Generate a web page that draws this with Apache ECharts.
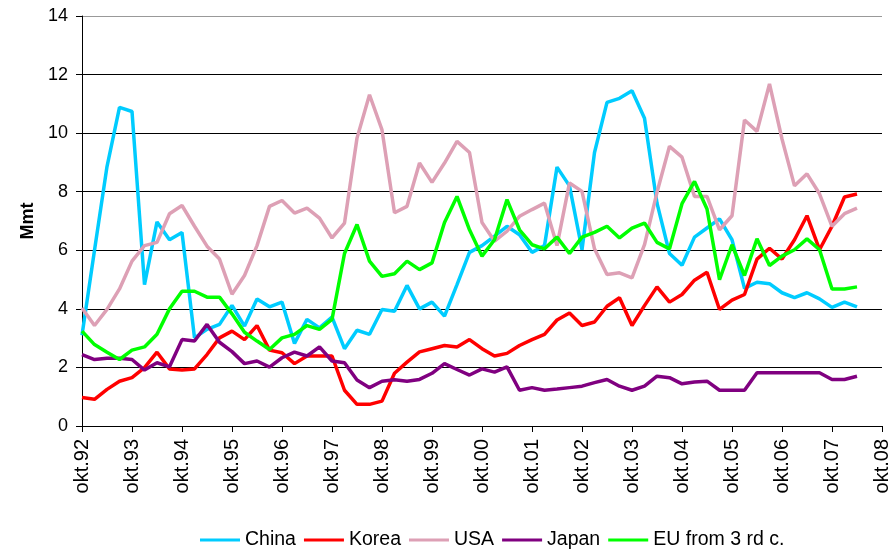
<!DOCTYPE html>
<html>
<head>
<meta charset="utf-8">
<script src="https://cdn.jsdelivr.net/npm/echarts@6/dist/echarts.min.js"></script>
<style>
  html, body { margin: 0; padding: 0; background: #fff; }
  #chart { width: 893px; height: 552px; }
</style>
</head>
<body>
<div id="chart"></div>
<script>
// quarterly, okt.92 .. okt.08 (only okt labels shown)
var years = ['92','93','94','95','96','97','98','99','00','01','02','03','04','05','06','07','08'];
var quarterNames = ['okt', 'jan', 'apr', 'jul'];

var china = [3.1, 6.0, 8.86, 10.88, 10.74, 4.83, 6.97, 6.36, 6.61, 3.01, 3.3, 3.47, 4.12, 3.41, 4.34, 4.07,
  4.23, 2.82, 3.64, 3.35, 3.72, 2.64, 3.27, 3.13, 3.98, 3.92, 4.8, 4.0, 4.23, 3.75, 4.83, 5.93,
  6.16, 6.48, 6.82, 6.53, 5.93, 6.16, 8.84, 8.2, 6.02, 9.34, 11.05, 11.19, 11.45, 10.51, 7.61, 5.89,
  5.49, 6.45, 6.76, 7.07, 6.36, 4.7, 4.91, 4.86, 4.55, 4.38, 4.55, 4.34, 4.05, 4.23, 4.07];
var korea = [0.97, 0.91, 1.25, 1.53, 1.65, 1.99, 2.52, 1.95, 1.91, 1.95, 2.44, 3.01, 3.24, 2.95, 3.43, 2.59,
  2.5, 2.13, 2.39, 2.39, 2.39, 1.22, 0.74, 0.74, 0.85, 1.8, 2.18, 2.53, 2.64, 2.75, 2.7, 2.95,
  2.64, 2.39, 2.48, 2.75, 2.95, 3.13, 3.62, 3.86, 3.43, 3.55, 4.09, 4.38, 3.43, 4.11, 4.75, 4.23,
  4.49, 4.98, 5.25, 3.98, 4.3, 4.49, 5.7, 6.07, 5.7, 6.36, 7.18, 6.02, 6.82, 7.82, 7.92];
var usa = [4.03, 3.43, 3.98, 4.68, 5.63, 6.16, 6.27, 7.25, 7.53, 6.82, 6.14, 5.7, 4.5, 5.14, 6.16, 7.5,
  7.7, 7.27, 7.44, 7.1, 6.42, 6.93, 9.83, 11.31, 10.11, 7.28, 7.5, 8.98, 8.32, 8.98, 9.72, 9.34,
  6.95, 6.31, 6.65, 7.16, 7.39, 7.61, 6.16, 8.3, 8.01, 6.05, 5.17, 5.23, 5.06, 6.19, 7.98, 9.55,
  9.18, 7.84, 7.84, 6.7, 7.18, 10.45, 10.06, 11.68, 9.8, 8.2, 8.61, 7.93, 6.82, 7.25, 7.44];
var japan = [2.44, 2.27, 2.31, 2.31, 2.27, 1.91, 2.16, 2.02, 2.95, 2.9, 3.47, 2.86, 2.54, 2.13, 2.22, 2.01,
  2.33, 2.52, 2.39, 2.7, 2.22, 2.16, 1.57, 1.31, 1.53, 1.58, 1.53, 1.59, 1.8, 2.13, 1.93, 1.74,
  1.95, 1.84, 2.02, 1.22, 1.31, 1.22, 1.26, 1.31, 1.36, 1.48, 1.59, 1.36, 1.22, 1.36, 1.7, 1.65,
  1.44, 1.5, 1.53, 1.22, 1.22, 1.22, 1.82, 1.82, 1.82, 1.82, 1.82, 1.82, 1.59, 1.59, 1.7];
var eu = [3.24, 2.78, 2.52, 2.27, 2.59, 2.7, 3.13, 4.0, 4.6, 4.6, 4.4, 4.4, 3.83, 3.2, 2.9, 2.61,
  3.01, 3.13, 3.43, 3.3, 3.64, 5.89, 6.88, 5.63, 5.11, 5.2, 5.63, 5.34, 5.57, 6.95, 7.84, 6.7,
  5.8, 6.36, 7.73, 6.7, 6.19, 6.05, 6.45, 5.89, 6.45, 6.61, 6.82, 6.42, 6.76, 6.93, 6.27, 6.05,
  7.59, 8.35, 7.41, 5.0, 6.19, 5.14, 6.39, 5.48, 5.8, 6.02, 6.39, 6.02, 4.68, 4.68, 4.75];

// build the quarter categories: okt.92, jan.93, apr.93, jul.93, okt.93 ...
var categories = [];
for (var y = 0; y < years.length; y++) {
  categories.push('okt.' + years[y]);
  if (y < years.length - 1) {
    for (var q = 1; q < 4; q++) categories.push(quarterNames[q] + '.' + years[y + 1]);
  }
}

var font = "'Liberation Sans', Arial, sans-serif";

function line(name, data, color) {
  return {
    name: name,
    type: 'line',
    data: data,
    symbol: 'none',
    lineStyle: { color: color, width: 3.5 },
    itemStyle: { color: color }
  };
}

var myChart = echarts.init(document.getElementById('chart'));
var options = {
  animation: false,
  backgroundColor: '#fff',
  textStyle: { fontFamily: font, color: '#000' },
  grid: { left: 82, right: 11, top: 16, bottom: 126 },
  legend: {
    left: 200,
    top: 530,
    padding: 0,
    icon: 'rect',
    itemWidth: 40,
    itemHeight: 3,
    itemGap: 8,
    textStyle: { fontFamily: font, fontSize: 19.5, color: '#000' },
    data: ['China', 'Korea', 'USA', 'Japan', 'EU from 3 rd c.']
  },
  xAxis: {
    type: 'category',
    data: categories,
    boundaryGap: false,
    axisLine: { lineStyle: { color: '#000', width: 1 } },
    axisTick: { interval: 3, length: 6, lineStyle: { color: '#000' } },
    axisLabel: {
      interval: 3,
      rotate: 90,
      margin: 13,
      fontSize: 20,
      fontFamily: font,
      color: '#000'
    },
    splitLine: { show: false }
  },
  yAxis: {
    type: 'value',
    min: 0,
    max: 14,
    interval: 2,
    name: 'Mmt',
    nameLocation: 'middle',
    nameGap: 40,
    nameTextStyle: { fontFamily: font, fontSize: 18, fontWeight: 'bold', color: '#000' },
    axisLine: { show: true, lineStyle: { color: '#000', width: 1 } },
    axisTick: { show: true, length: 6, lineStyle: { color: '#000' } },
    axisLabel: { margin: 14, fontSize: 18, fontFamily: font, color: '#000' },
    splitLine: {
      show: true,
      lineStyle: { color: ['#000', '#000', '#000', '#000', '#000', '#000', '#000', '#999'], width: 1 }
    }
  },
  series: [
    line('China', china, '#00CCFF'),
    line('Korea', korea, '#FF0000'),
    line('USA', usa, '#DDA0B5'),
    line('Japan', japan, '#800080'),
    line('EU from 3 rd c.', eu, '#00FF00')
  ]
};
myChart.setOption(options);
</script>
</body>
</html>
